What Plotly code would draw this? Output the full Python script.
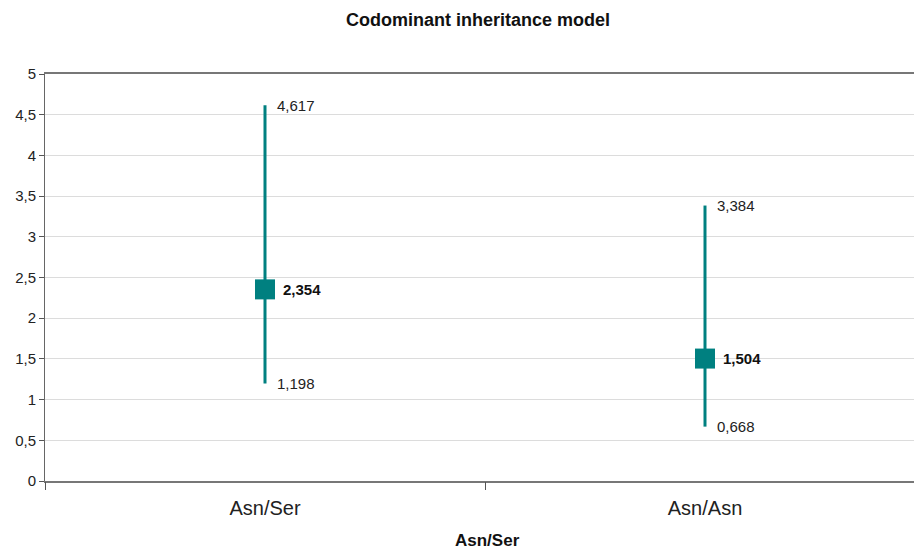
import plotly.graph_objects as go

categories = ["Asn/Ser", "Asn/Asn"]
odds_ratio = [2.354, 1.504]
ci_lower = [1.198, 0.668]
ci_upper = [4.617, 3.384]
y_ticks = [0, 0.5, 1, 1.5, 2, 2.5, 3, 3.5, 4, 4.5, 5]
x_title = "Asn/Ser"
chart_title = "Codominant inheritance model"

TEAL = "#008080"
FONT = "Liberation Sans, Arial, sans-serif"

def fmt(v):
    return f"{v:.3f}".replace(".", ",")

xpos = list(range(len(categories)))

fig = go.Figure()
fig.add_trace(go.Scatter(
    x=xpos, y=odds_ratio, mode="markers",
    marker=dict(symbol="square", size=20, color=TEAL),
    error_y=dict(type="data", symmetric=False,
                 array=[u - m for u, m in zip(ci_upper, odds_ratio)],
                 arrayminus=[m - l for m, l in zip(odds_ratio, ci_lower)],
                 color=TEAL, thickness=3, width=0),
    showlegend=False, hoverinfo="skip",
))
# invisible trace to activate the boundary-tick axis
fig.add_trace(go.Scatter(x=[-0.5], y=[0], xaxis="x2", mode="markers",
                         marker=dict(opacity=0), showlegend=False, hoverinfo="skip"))

ann = []
for i in xpos:
    ann.append(dict(x=i, y=ci_upper[i], text=fmt(ci_upper[i]), xanchor="left", yanchor="middle",
                    xshift=10, showarrow=False, font=dict(size=15, color="#222", family=FONT)))
    ann.append(dict(x=i, y=ci_lower[i], text=fmt(ci_lower[i]), xanchor="left", yanchor="middle",
                    xshift=10, showarrow=False, font=dict(size=15, color="#222", family=FONT)))
    ann.append(dict(x=i, y=odds_ratio[i], text="<b>" + fmt(odds_ratio[i]) + "</b>", xanchor="left",
                    yanchor="middle", xshift=16, showarrow=False, font=dict(size=15, color="#111", family=FONT)))
ann.append(dict(xref="paper", yref="paper", x=(487 - 45) / 869, y=0, yshift=-59,
                xanchor="center", yanchor="middle", showarrow=False,
                text="<b>" + x_title + "</b>", font=dict(size=17, color="#111", family=FONT)))

xr = [-0.5, -0.5 + (914 - 45) / 440]

fig.update_layout(
    width=914, height=551,
    margin=dict(l=45, r=0, t=74, b=70),
    paper_bgcolor="white", plot_bgcolor="white",
    separators=", ",
    font=dict(family=FONT, color="#222"),
    title=dict(text="<b>" + chart_title + "</b>", x=478 / 914, xanchor="center", xref="container",
               y=1 - 20 / 551, yref="container", yanchor="middle",
               font=dict(size=18, color="#111", family=FONT)),
    xaxis=dict(range=xr, tickvals=xpos, ticktext=categories, ticks="", showgrid=False,
               zeroline=False, showline=True, linecolor="#777", linewidth=1.5, mirror=True,
               tickfont=dict(size=20, color="#222"), ticklabelstandoff=8, automargin=False),
    xaxis2=dict(range=xr, overlaying="x", side="bottom", tickvals=[-0.5, 0.5, 1.5], ticktext=["", "", ""],
                ticks="outside", ticklen=8, tickcolor="#555", tickwidth=1, showgrid=False,
                zeroline=False, showline=False, automargin=False),
    yaxis=dict(range=[0, 5], tickvals=y_ticks, ticks="outside", ticklen=5,
               tickcolor="#555", showline=True, linecolor="#666", linewidth=1,
               gridcolor="#dcdcdc", gridwidth=1, zeroline=False, automargin=False,
               tickfont=dict(size=15, color="#222")),
    annotations=ann,
)

fig.write_html("out.html", config={"displayModeBar": False},
               post_script="document.body.style.margin='0';")
